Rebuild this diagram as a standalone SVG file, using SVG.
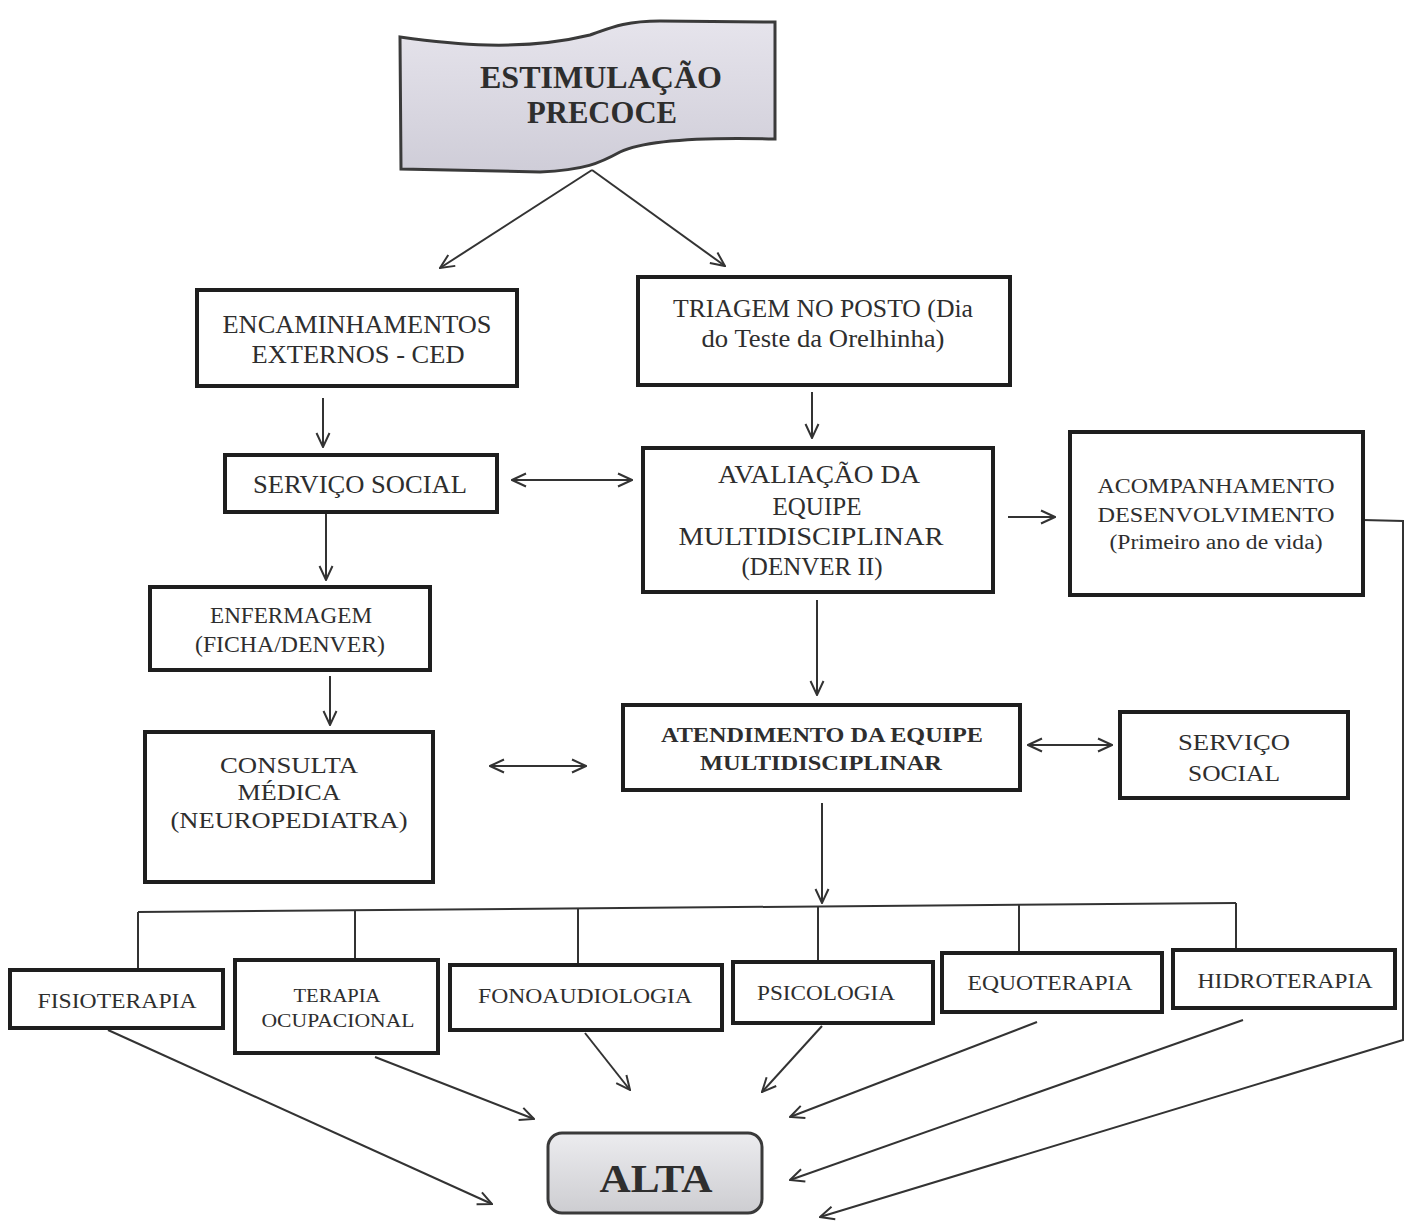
<svg xmlns="http://www.w3.org/2000/svg" width="1407" height="1223" viewBox="0 0 1407 1223">
<style>
.box{fill:#fff;stroke:#1e1e1e;stroke-width:4}
.t{font-family:"Liberation Serif","Times New Roman",serif;fill:#2e2e2e;text-anchor:middle}
.b{font-weight:bold}
.c{fill:none;stroke:#333;stroke-width:2}
</style>
<defs>
<marker id="ah" viewBox="0 0 16 16" refX="15" refY="8" markerWidth="16" markerHeight="16" orient="auto-start-reverse" markerUnits="userSpaceOnUse">
<path d="M1,1.5 L15,8 L1,14.5" fill="none" stroke="#333" stroke-width="2"/>
</marker>
<linearGradient id="gb" x1="0" y1="0" x2="0" y2="1">
<stop offset="0" stop-color="#e6e4ec"/><stop offset="1" stop-color="#cfcdd8"/>
</linearGradient>
<linearGradient id="ga" x1="0" y1="0" x2="0" y2="1">
<stop offset="0" stop-color="#ececef"/><stop offset="1" stop-color="#cdcdd1"/>
</linearGradient>
</defs>

<g id="connectors">
<line class="c" x1="592" y1="170" x2="440" y2="268" marker-end="url(#ah)"/>
<line class="c" x1="592" y1="170" x2="725" y2="266" marker-end="url(#ah)"/>
<line class="c" x1="323" y1="398" x2="323" y2="447" marker-end="url(#ah)"/>
<line class="c" x1="812" y1="392" x2="812" y2="438" marker-end="url(#ah)"/>
<line class="c" x1="512" y1="480" x2="632" y2="480" marker-start="url(#ah)" marker-end="url(#ah)"/>
<line class="c" x1="1008" y1="517" x2="1055" y2="517" marker-end="url(#ah)"/>
<line class="c" x1="326" y1="514" x2="326" y2="580" marker-end="url(#ah)"/>
<line class="c" x1="330" y1="676" x2="330" y2="725" marker-end="url(#ah)"/>
<line class="c" x1="490" y1="766" x2="586" y2="766" marker-start="url(#ah)" marker-end="url(#ah)"/>
<line class="c" x1="817" y1="600" x2="817" y2="695" marker-end="url(#ah)"/>
<line class="c" x1="1028" y1="745" x2="1112" y2="745" marker-start="url(#ah)" marker-end="url(#ah)"/>
<line class="c" x1="822" y1="803" x2="822" y2="903" marker-end="url(#ah)"/>
<line class="c" x1="138" y1="912" x2="1236" y2="903"/>
<line class="c" x1="138" y1="912" x2="138" y2="968"/>
<line class="c" x1="355" y1="910" x2="355" y2="958"/>
<line class="c" x1="578" y1="908" x2="578" y2="963"/>
<line class="c" x1="818" y1="906" x2="818" y2="960"/>
<line class="c" x1="1019" y1="905" x2="1019" y2="951"/>
<line class="c" x1="1236" y1="903" x2="1236" y2="948"/>
<polyline class="c" points="1363,520 1403,521 1403,1040 820,1217" marker-end="url(#ah)"/>
<line class="c" x1="108" y1="1030" x2="492" y2="1204" marker-end="url(#ah)"/>
<line class="c" x1="375" y1="1057" x2="534" y2="1119" marker-end="url(#ah)"/>
<line class="c" x1="585" y1="1033" x2="630" y2="1090" marker-end="url(#ah)"/>
<line class="c" x1="822" y1="1026" x2="762" y2="1092" marker-end="url(#ah)"/>
<line class="c" x1="1037" y1="1022" x2="790" y2="1117" marker-end="url(#ah)"/>
<line class="c" x1="1243" y1="1020" x2="790" y2="1180" marker-end="url(#ah)"/>
</g>

<g id="estimulacao">
<path d="M400,37 C450,44 520,52 590,35 C610,28 625,21 660,21 L775,22 L775,139 C700,137 645,140 620,152 C600,163 585,170 540,172 L401,169 Z" fill="url(#gb)" stroke="#3a3a3a" stroke-width="3"/>
<text class="t b" x="601" y="88" font-size="32" textLength="242" lengthAdjust="spacingAndGlyphs">ESTIMULAÇÃO</text>
<text class="t b" x="602" y="123" font-size="32" textLength="150" lengthAdjust="spacingAndGlyphs">PRECOCE</text>
</g>

<g id="encaminhamentos">
<rect class="box" x="197" y="290" width="320" height="96"/>
<text class="t" x="357" y="333" font-size="25" textLength="269" lengthAdjust="spacingAndGlyphs">ENCAMINHAMENTOS</text>
<text class="t" x="358" y="363" font-size="25" textLength="213" lengthAdjust="spacingAndGlyphs">EXTERNOS - CED</text>
</g>

<g id="triagem">
<rect class="box" x="638" y="277" width="372" height="108"/>
<text class="t" x="823" y="317" font-size="25" textLength="300" lengthAdjust="spacingAndGlyphs">TRIAGEM NO POSTO (Dia</text>
<text class="t" x="823" y="347" font-size="25" textLength="243" lengthAdjust="spacingAndGlyphs">do Teste da Orelhinha)</text>
</g>

<g id="servico-social-1">
<rect class="box" x="225" y="455" width="272" height="57"/>
<text class="t" x="360" y="493" font-size="25" textLength="214" lengthAdjust="spacingAndGlyphs">SERVIÇO SOCIAL</text>
</g>

<g id="avaliacao">
<rect class="box" x="643" y="448" width="350" height="144"/>
<text class="t" x="819" y="483" font-size="25" textLength="202" lengthAdjust="spacingAndGlyphs">AVALIAÇÃO DA</text>
<text class="t" x="817" y="515" font-size="25">EQUIPE</text>
<text class="t" x="811" y="545" font-size="25" textLength="265" lengthAdjust="spacingAndGlyphs">MULTIDISCIPLINAR</text>
<text class="t" x="812" y="575" font-size="25">(DENVER II)</text>
</g>

<g id="acompanhamento">
<rect class="box" x="1070" y="432" width="293" height="163"/>
<text class="t" x="1216" y="493" font-size="21" textLength="237" lengthAdjust="spacingAndGlyphs">ACOMPANHAMENTO</text>
<text class="t" x="1216" y="522" font-size="21" textLength="237" lengthAdjust="spacingAndGlyphs">DESENVOLVIMENTO</text>
<text class="t" x="1216" y="549" font-size="20" textLength="213" lengthAdjust="spacingAndGlyphs">(Primeiro ano de vida)</text>
</g>

<g id="enfermagem">
<rect class="box" x="150" y="587" width="280" height="83"/>
<text class="t" x="291" y="623" font-size="23" textLength="162" lengthAdjust="spacingAndGlyphs">ENFERMAGEM</text>
<text class="t" x="290" y="652" font-size="23" textLength="190" lengthAdjust="spacingAndGlyphs">(FICHA/DENVER)</text>
</g>

<g id="consulta">
<rect class="box" x="145" y="732" width="288" height="150"/>
<text class="t" x="289" y="773" font-size="24" textLength="138" lengthAdjust="spacingAndGlyphs">CONSULTA</text>
<text class="t" x="289" y="800" font-size="24" textLength="103" lengthAdjust="spacingAndGlyphs">MÉDICA</text>
<text class="t" x="289" y="828" font-size="24" textLength="237" lengthAdjust="spacingAndGlyphs">(NEUROPEDIATRA)</text>
</g>

<g id="atendimento">
<rect class="box" x="623" y="705" width="397" height="85"/>
<text class="t b" x="822" y="742" font-size="22" textLength="322" lengthAdjust="spacingAndGlyphs">ATENDIMENTO DA EQUIPE</text>
<text class="t b" x="821" y="770" font-size="22" textLength="242" lengthAdjust="spacingAndGlyphs">MULTIDISCIPLINAR</text>
</g>

<g id="servico-social-2">
<rect class="box" x="1120" y="712" width="228" height="86"/>
<text class="t" x="1234" y="750" font-size="24" textLength="112" lengthAdjust="spacingAndGlyphs">SERVIÇO</text>
<text class="t" x="1234" y="781" font-size="24" textLength="92" lengthAdjust="spacingAndGlyphs">SOCIAL</text>
</g>

<g id="fisioterapia">
<rect class="box" x="10" y="970" width="213" height="58"/>
<text class="t" x="117" y="1008" font-size="21" textLength="159" lengthAdjust="spacingAndGlyphs">FISIOTERAPIA</text>
</g>

<g id="terapia-ocupacional">
<rect class="box" x="235" y="960" width="203" height="93"/>
<text class="t" x="337" y="1002" font-size="19" textLength="87" lengthAdjust="spacingAndGlyphs">TERAPIA</text>
<text class="t" x="338" y="1027" font-size="19" textLength="153" lengthAdjust="spacingAndGlyphs">OCUPACIONAL</text>
</g>

<g id="fonoaudiologia">
<rect class="box" x="450" y="965" width="272" height="65"/>
<text class="t" x="585" y="1003" font-size="21" textLength="214" lengthAdjust="spacingAndGlyphs">FONOAUDIOLOGIA</text>
</g>

<g id="psicologia">
<rect class="box" x="733" y="962" width="200" height="61"/>
<text class="t" x="826" y="1000" font-size="21" textLength="138" lengthAdjust="spacingAndGlyphs">PSICOLOGIA</text>
</g>

<g id="equoterapia">
<rect class="box" x="942" y="953" width="220" height="59"/>
<text class="t" x="1050" y="990" font-size="21" textLength="165" lengthAdjust="spacingAndGlyphs">EQUOTERAPIA</text>
</g>

<g id="hidroterapia">
<rect class="box" x="1173" y="950" width="222" height="58"/>
<text class="t" x="1285" y="988" font-size="21" textLength="175" lengthAdjust="spacingAndGlyphs">HIDROTERAPIA</text>
</g>

<g id="alta">
<rect x="548" y="1133" width="214" height="80" rx="14" fill="url(#ga)" stroke="#3a3a3a" stroke-width="3"/>
<text class="t b" x="656" y="1192" font-size="40" textLength="113" lengthAdjust="spacingAndGlyphs">ALTA</text>
</g>
</svg>
